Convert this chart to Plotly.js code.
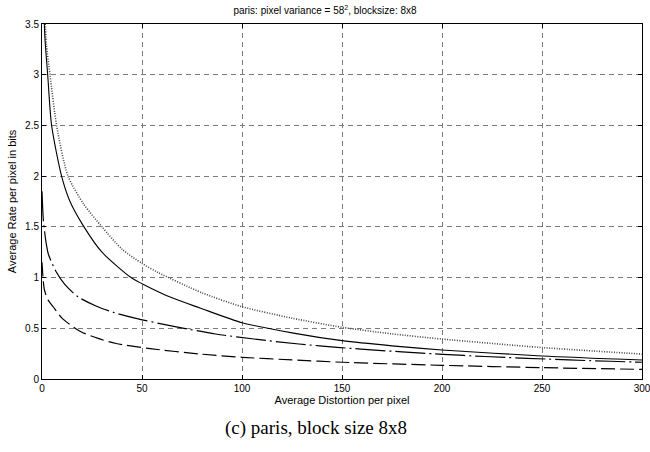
<!DOCTYPE html>
<html>
<head>
<meta charset="utf-8">
<script src="https://cdn.plot.ly/plotly-3.0.1.min.js"></script>
<style>
html,body{margin:0;padding:0;background:#fff;}
#chart{width:650px;height:452px;}
</style>
</head>
<body>
<div id="chart"></div>
<script>
// Solid curve
const dSolid = [0.8, 1.5, 2.85, 4.8, 9.8, 14, 21, 30, 44.5, 50, 65, 79, 100, 125, 150, 175, 200, 250, 300];
const rSolid = [3.7, 3.35, 3.0, 2.5, 2.0, 1.75, 1.5, 1.25, 1.0, 0.94, 0.8, 0.70, 0.555, 0.455, 0.378, 0.327, 0.286, 0.227, 0.187];
// Dotted curve
const dDot = [1.2, 2.2, 4, 7.3, 13, 21, 30, 40, 50, 58, 80, 100, 125, 150, 175, 200, 250, 300];
const rDot = [3.7, 3.3, 3.0, 2.5, 2.0, 1.72, 1.5, 1.28, 1.14, 1.05, 0.85, 0.713, 0.6, 0.51, 0.445, 0.394, 0.31, 0.246];
// Dash-dot curve
const dDashDot = [0, 0.3, 0.7, 2, 3.2, 7, 11.5, 18, 27, 36, 46.5, 66.5, 86.8, 107.7, 128.5, 149, 170, 190, 211, 232, 253, 274, 295, 300];
const rDashDot = [1.85, 1.7, 1.56, 1.35, 1.23, 1.06, 0.93, 0.81, 0.72, 0.655, 0.6, 0.516, 0.444, 0.39, 0.345, 0.31, 0.28, 0.255, 0.232, 0.212, 0.196, 0.181, 0.168, 0.165];
// Dashed curve
const dDash = [0, 0.5, 1.2, 3, 5.7, 10, 19, 28, 37, 54, 79, 100, 125, 150, 200, 250, 300];
const rDash = [1.15, 1.0, 0.88, 0.78, 0.71, 0.6, 0.47, 0.4, 0.35, 0.30, 0.246, 0.214, 0.188, 0.165, 0.135, 0.112, 0.095];

const xTicks = [0, 50, 100, 150, 200, 250, 300];
const yTicks = [0, 0.5, 1, 1.5, 2, 2.5, 3, 3.5];
const yTickText = ['0', '0.5', '1', '1.5', '2', '2.5', '3', '3.5'];

const traces = [
  {x: dDot, y: rDot, mode: 'lines', line: {color: '#444', width: 1.6, dash: '1px,1.5px', shape: 'spline', smoothing: 0.7}},
  {x: dSolid, y: rSolid, mode: 'lines', line: {color: '#000', width: 1.1, shape: 'spline', smoothing: 0.7}},
  {x: dDashDot, y: rDashDot, mode: 'lines', line: {color: '#000', width: 1.2, dash: '30px,4px,2px,4px', shape: 'spline', smoothing: 0.7}},
  {x: dDash, y: rDash, mode: 'lines', line: {color: '#000', width: 1.2, dash: '14px,5px', shape: 'spline', smoothing: 0.7}}
];

const axisCommon = {
  showline: true, linecolor: '#000', linewidth: 1, mirror: 'ticks',
  ticks: 'inside', ticklen: 4, tickcolor: '#000',
  showgrid: true, gridcolor: '#7a7a7a', griddash: '5px,4px', gridwidth: 1,
  zeroline: false, ticklabeloverflow: 'allow',
  tickfont: {family: 'Liberation Sans, Arial, sans-serif', size: 10, color: '#000'}
};

const layout = {
  width: 650, height: 452,
  margin: {l: 42, r: 8, t: 24, b: 73},
  paper_bgcolor: '#fff', plot_bgcolor: '#fff',
  showlegend: false,
  title: {text: 'paris: pixel variance = 58<sup>2</sup>, blocksize: 8x8',
          font: {family: 'Liberation Sans, Arial, sans-serif', size: 10, color: '#000'},
          x: 0.5, xanchor: 'center', y: 0.985, yanchor: 'top'},
  xaxis: Object.assign({}, axisCommon, {
    range: [0, 300], tickvals: xTicks, ticktext: xTicks.map(String),
    title: {text: 'Average Distortion per pixel', standoff: 0,
            font: {family: 'Liberation Sans, Arial, sans-serif', size: 11, color: '#000'}}
  }),
  yaxis: Object.assign({}, axisCommon, {
    range: [0, 3.5], tickvals: yTicks, ticktext: yTickText,
    title: {text: 'Average Rate per pixel in bits', standoff: 6,
            font: {family: 'Liberation Sans, Arial, sans-serif', size: 11, color: '#000'}}
  }),
  annotations: [{
    text: '(c) paris, block size 8x8', xref: 'paper', yref: 'paper',
    x: 0.457, y: -0.10, xanchor: 'center', yanchor: 'top', showarrow: false,
    font: {family: 'Liberation Serif, Times New Roman, serif', size: 19, color: '#000'}
  }]
};

Plotly.newPlot('chart', traces, layout, {staticPlot: true, displayModeBar: false});
</script>
</body>
</html>
